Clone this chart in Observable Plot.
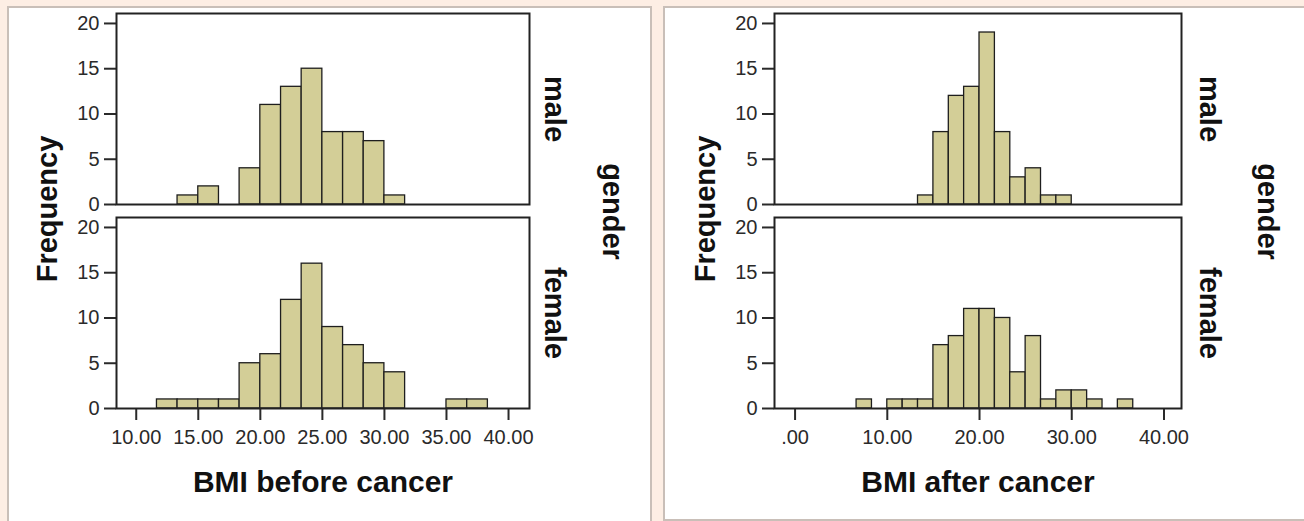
<!DOCTYPE html>
<html>
<head>
<meta charset="utf-8">
<script src="https://cdn.jsdelivr.net/npm/d3@7"></script>
<script src="https://cdn.jsdelivr.net/npm/@observablehq/plot@0.6"></script>
<style>
  html, body { margin: 0; padding: 0; background: #fdeee4; width: 1304px; height: 521px; overflow: hidden; }
  .card { position: absolute; background: #ffffff; border: 2px solid #c9bfb8; box-sizing: border-box; }
  .card svg { position: absolute; left: 0; top: 0; }
</style>
</head>
<body>
<div class="card" id="left" style="left:7px; top:6px; width:645px; height:540px;"></div>
<div class="card" id="right" style="left:663px; top:6px; width:660px; height:515px;"></div>
<script>
// ---- data ----
const genders = ["male", "female"];
const binWidth = 1.667;

// BMI before cancer
const beforeMaleLo = [13.33, 15.00, 18.33, 20.00, 21.67, 23.33, 25.00, 26.67, 28.33, 30.00];
const beforeMaleCount = [1, 2, 4, 11, 13, 15, 8, 8, 7, 1];
const beforeFemaleLo = [11.67, 13.33, 15.00, 16.67, 18.33, 20.00, 21.67, 23.33, 25.00, 26.67, 28.33, 30.00, 35.00, 36.67];
const beforeFemaleCount = [1, 1, 1, 1, 5, 6, 12, 16, 9, 7, 5, 4, 1, 1];

// BMI after cancer
const afterMaleLo = [13.33, 15.00, 16.67, 18.33, 20.00, 21.67, 23.33, 25.00, 26.67, 28.33];
const afterMaleCount = [1, 8, 12, 13, 19, 8, 3, 4, 1, 1];
const afterFemaleLo = [6.67, 10.00, 11.67, 13.33, 15.00, 16.67, 18.33, 20.00, 21.67, 23.33, 25.00, 26.67, 28.33, 30.00, 31.67, 35.00];
const afterFemaleCount = [1, 1, 1, 1, 7, 8, 11, 11, 10, 4, 8, 1, 2, 2, 1, 1];

const yTicks = [0, 5, 10, 15, 20];
const beforeXTicks = [10, 15, 20, 25, 30, 35, 40];
const afterXTicks = [0, 10, 20, 30, 40];

function rows(lo, count, gender) {
  return lo.map((l, i) => ({gender, lo: l, hi: l + binWidth, count: count[i]}));
}

const FONT = "'Liberation Sans', Arial, Helvetica, sans-serif";

function chart({data, xDomain, xTicks, tickFormat, title, width, marginLeft, marginRight, shift}) {
  const height = 510;
  return Plot.plot({
    width, height,
    marginTop: 4,
    marginBottom: height - 401,
    marginLeft, marginRight,
    style: {fontFamily: FONT, background: "transparent", overflow: "visible"},
    x: {domain: xDomain, axis: null},
    y: {domain: [0, 21.1], axis: null},
    fy: {domain: genders, paddingInner: 0.0634, paddingOuter: 0, axis: null},
    marks: [
      Plot.rectY(data, {x1: "lo", x2: "hi", y: "count", fy: "gender", fill: "#d3ce97", stroke: "#1e1e1e", strokeWidth: 1.3}),
      Plot.axisY({ticks: yTicks, tickSize: 12, tickPadding: 5, fontSize: 20, color: "#2a2a2a", strokeWidth: 2, label: null}),
      Plot.axisX({ticks: xTicks, tickFormat, tickSize: 12, tickPadding: 9, fontSize: 20, color: "#2a2a2a", strokeWidth: 2, label: null}),
      Plot.frame({stroke: "#222", strokeWidth: 2}),
      Plot.text(genders, {fy: d => d, text: d => d, frameAnchor: "right", dx: 25 + shift, rotate: 90,
        textAnchor: "middle", lineAnchor: "middle", fontSize: 29, fontWeight: "bold", fill: "#111"}),
      Plot.text(["gender"], {fy: ["male"], text: d => d, frameAnchor: "bottom-right", dx: 83 + shift, dy: 7, rotate: 90,
        textAnchor: "middle", lineAnchor: "middle", fontSize: 29, fontWeight: "bold", fill: "#111"}),
      Plot.text(["Frequency"], {fy: ["male"], text: d => d, frameAnchor: "bottom-left", dx: -69, dy: 4.5, rotate: -90,
        textAnchor: "middle", lineAnchor: "middle", fontSize: 29, fontWeight: "bold", fill: "#111"}),
      Plot.text([title], {fy: ["female"], text: d => d, frameAnchor: "bottom", dy: 73.4,
        textAnchor: "middle", lineAnchor: "middle", fontSize: 30, fontWeight: "bold", fill: "#111"})
    ]
  });
}

const beforeData = rows(beforeMaleLo, beforeMaleCount, "male").concat(rows(beforeFemaleLo, beforeFemaleCount, "female"));
const afterData = rows(afterMaleLo, afterMaleCount, "male").concat(rows(afterFemaleLo, afterFemaleCount, "female"));

const leftSvg = chart({
  data: beforeData,
  xDomain: [8.41, 41.69],
  xTicks: beforeXTicks,
  tickFormat: d => d.toFixed(2),
  title: "BMI before cancer",
  width: 641, marginLeft: 107, marginRight: 641 - 520, shift: 0
});
document.getElementById("left").appendChild(leftSvg);

document.getElementById("right").appendChild(chart({
  data: afterData,
  xDomain: [-2.23, 41.9],
  xTicks: afterXTicks,
  tickFormat: d => d === 0 ? ".00" : d.toFixed(2),
  title: "BMI after cancer",
  width: 640, marginLeft: 109, marginRight: 124, shift: 3
}));
</script>
</body>
</html>
